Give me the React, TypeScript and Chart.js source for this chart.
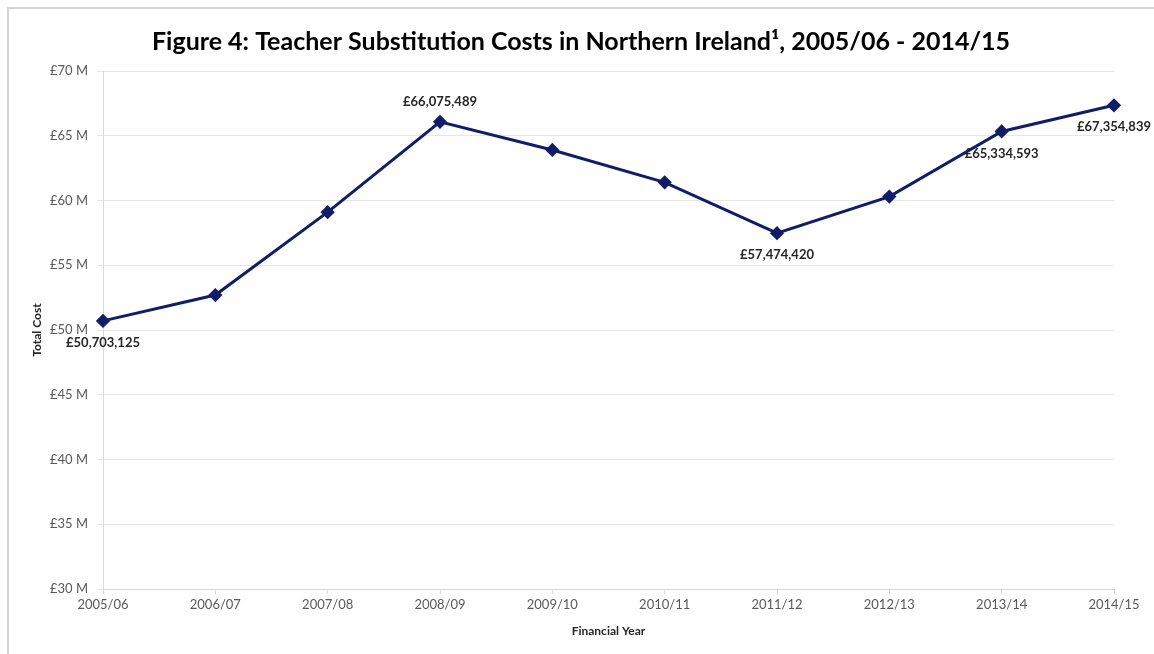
import React, { useEffect, useRef } from "react";
import { Chart, registerables } from "chart.js";

Chart.register(...registerables);

const categories = ["2005/06", "2006/07", "2007/08", "2008/09", "2009/10", "2010/11", "2011/12", "2012/13", "2013/14", "2014/15"];
const totalCost = [50703125, 52700000, 59100000, 66075489, 63900000, 61400000, 57474420, 60300000, 65334593, 67354839];
const labelShown = [true, false, false, true, false, false, true, false, true, true];
const labelBelow = [true, false, false, false, false, false, true, false, true, true];
const yTicksMin = 30000000;
const yTicksMax = 70000000;
const yTickStep = 5000000;
const titleText = "Figure 4: Teacher Substitution Costs in Northern Ireland¹, 2005/06 - 2014/15";

const FONT = "Lato, 'Open Sans', sans-serif";

const titlePlugin = {
  id: "customTitle",
  afterDraw(chart: any) {
    const ctx = chart.ctx;
    ctx.save();
    ctx.font = `bold 25px ${FONT}`;
    ctx.fillStyle = "#000000";
    ctx.textAlign = "center";
    ctx.textBaseline = "middle";
    ctx.fillText(titleText, 581, 42);
    ctx.restore();
  },
};

const dataLabelPlugin = {
  id: "dataLabels",
  afterDatasetsDraw(chart: any) {
    const meta = chart.getDatasetMeta(0);
    const ctx = chart.ctx;
    ctx.save();
    ctx.font = `bold 13px ${FONT}`;
    ctx.fillStyle = "#262626";
    ctx.textAlign = "center";
    ctx.textBaseline = "middle";
    meta.data.forEach((pt: any, i: number) => {
      if (!labelShown[i]) return;
      const text = "£" + totalCost[i].toLocaleString("en-GB");
      const dy = labelBelow[i] ? 22 : -20;
      ctx.fillText(text, pt.x, pt.y + dy);
    });
    ctx.restore();
  },
};

export default function App() {
  const ref = useRef<HTMLCanvasElement | null>(null);
  useEffect(() => {
    document.body.style.margin = "0";
    const chart = new Chart(ref.current as HTMLCanvasElement, {
      type: "line",
      data: {
        labels: categories,
        datasets: [
          {
            data: totalCost,
            borderColor: "#111d68",
            backgroundColor: "#111d68",
            borderWidth: 3,
            pointStyle: "rectRot",
            pointRadius: 5,
            pointHoverRadius: 5,
            tension: 0,
          },
        ],
      },
      options: {
        responsive: false,
        animation: false,
        layout: { padding: { left: 0, right: 40, top: 71, bottom: 0 } },
        plugins: {
          legend: { display: false },
          tooltip: { enabled: false },
          title: { display: false },
        },
        scales: {
          x: {
            offset: false,
            grid: { drawOnChartArea: false, drawTicks: true, tickLength: 5, color: "#d9d9d9" },
            border: { color: "#d9d9d9", width: 1 },
            ticks: { color: "#595959", font: { family: FONT, size: 13 }, padding: 3, maxRotation: 0, autoSkip: false },
            title: {
              display: true,
              text: "Financial Year",
              color: "#262626",
              font: { family: FONT, size: 12, weight: "bold" },
              padding: { top: 4, bottom: 16 },
            },
            afterFit(scale: any) {
              scale.height = 65;
            },
          },
          y: {
            min: yTicksMin,
            max: yTicksMax,
            grid: { color: "#e6e6e6", tickLength: 6, drawTicks: true },
            border: { color: "#d9d9d9", width: 1 },
            ticks: {
              stepSize: yTickStep,
              color: "#595959",
              font: { family: FONT, size: 13 },
              padding: 9,
              callback: (v: any) => "£" + Number(v) / 1000000 + " M",
            },
            title: {
              display: true,
              text: "Total Cost",
              color: "#262626",
              font: { family: FONT, size: 12, weight: "bold" },
              padding: { top: 30, bottom: 0 },
            },
            afterFit(scale: any) {
              scale.width = 103;
            },
          },
        },
      },
      plugins: [dataLabelPlugin, titlePlugin],
    } as any);
    return () => chart.destroy();
  }, []);

  return (
    <div style={{ position: "fixed", left: 0, top: 0, width: 1154, height: 654, overflow: "hidden", background: "#fff" }}>
      <canvas ref={ref} width={1154} height={654} style={{ display: "block" }} />
      <div
        style={{
          position: "absolute",
          left: 7,
          top: 7,
          width: 1180,
          height: 680,
          border: "2px solid #d4d4d4",
          pointerEvents: "none",
        }}
      />
    </div>
  );
}
